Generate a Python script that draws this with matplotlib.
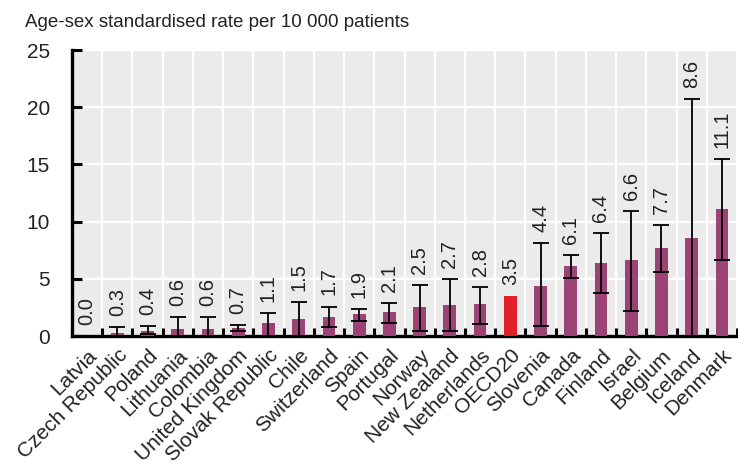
import matplotlib
matplotlib.use("Agg")
import matplotlib.pyplot as plt
import numpy as np

plt.rcParams['font.family'] = ['Liberation Sans', 'DejaVu Sans']

countries = ["Latvia", "Czech Republic", "Poland", "Lithuania", "Colombia", "United Kingdom",
             "Slovak Republic", "Chile", "Switzerland", "Spain", "Portugal", "Norway",
             "New Zealand", "Netherlands", "OECD20", "Slovenia", "Canada", "Finland",
             "Israel", "Belgium", "Iceland", "Denmark"]
values = [0.0, 0.3, 0.4, 0.6, 0.6, 0.7, 1.1, 1.5, 1.7, 1.9, 2.1, 2.5, 2.7, 2.8, 3.5,
          4.4, 6.1, 6.4, 6.6, 7.7, 8.6, 11.1]
ci_low = [np.nan, 0.0, 0.2, 0.0, 0.0, 0.45, 0.0, 0.0, 0.76, 1.3, 1.17, 0.44, 0.44, 1.02, np.nan,
          0.9, 5.04, 3.73, 2.19, 5.62, 0.0, 6.64]
ci_high = [np.nan, 0.75, 0.87, 1.63, 1.63, 0.95, 1.98, 3.0, 2.57, 2.33, 2.86, 4.46, 4.95, 4.31, np.nan,
           8.13, 7.08, 8.97, 10.95, 9.7, 20.7, 15.47]
yticks = [0, 5, 10, 15, 20, 25]

bar_color = "#9B4374"
oecd_color = "#E2202A"
text_color = "#222222"

W, H = 738, 471
fig = plt.figure(figsize=(W / 100, H / 100), dpi=100)
ax = fig.add_axes([72 / W, (H - 336) / H, (737 - 72) / W, (336 - 50) / H])
ax.set_facecolor("#EBEBEB")

x = np.arange(len(countries))
colors = [oecd_color if c == "OECD20" else bar_color for c in countries]
ax.bar(x, values, width=0.42, color=colors, zorder=3)

vals = np.array(values)
lo = np.array(ci_low)
hi = np.array(ci_high)
mask = ~np.isnan(lo)
yerr = np.vstack([vals[mask] - lo[mask], hi[mask] - vals[mask]])
ax.errorbar(x[mask], vals[mask], yerr=yerr, fmt='none', ecolor='black',
            elinewidth=1.3, capsize=5.5, capthick=1.3, zorder=4)

for i, v in enumerate(values):
    top = v if np.isnan(hi[i]) else max(v, hi[i])
    ax.annotate(f"{v:.1f}", xy=(i, top), xytext=(0, 8), textcoords="offset points",
                rotation=90, ha="center", va="bottom", fontsize=14.5, color=text_color,
                zorder=5, annotation_clip=False)

ax.set_xlim(-0.5, len(countries) - 0.5)
ax.set_ylim(0, 25)
ax.set_yticks(yticks)
ax.set_yticklabels([str(t) for t in yticks], fontsize=15, color=text_color)
ax.set_xticks(x)
ax.set_xticklabels(countries, rotation=45, ha="right", rotation_mode="anchor",
                   fontsize=15, color=text_color)
ax.tick_params(axis='x', which='major', length=0, pad=7)
ax.set_xticks(np.arange(-0.5, len(countries), 1.0), minor=True)
ax.tick_params(axis='x', which='minor', direction='in', length=6, width=2.2, color='black')
ax.tick_params(axis='y', which='major', direction='in', length=7, width=2.2, color='black', pad=16)

ax.grid(axis='y', which='major', color='white', linewidth=1.6, zorder=0)
ax.grid(axis='x', which='minor', color='white', linewidth=1.6, zorder=0)
ax.set_axisbelow(True)

for s in ["top", "right"]:
    ax.spines[s].set_visible(False)
for s in ["left", "bottom"]:
    ax.spines[s].set_linewidth(2.4)
    ax.spines[s].set_color("black")

fig.text(25 / W, 1 - 27 / H, "Age-sex standardised rate per 10 000 patients",
         fontsize=13.5, color=text_color, va="baseline", ha="left")

fig.savefig("out.png", dpi=100)
